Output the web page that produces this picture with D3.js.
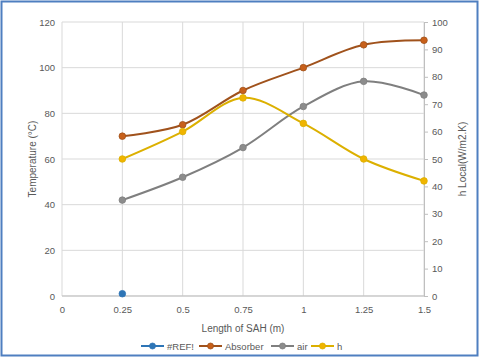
<!DOCTYPE html>
<html>
<head>
<meta charset="utf-8">
<script src="https://cdn.jsdelivr.net/npm/d3@7"></script>
<style>
  body { margin: 0; background: #fff; }
  svg { display: block; font-family: "Liberation Sans", Arial, sans-serif; }
</style>
</head>
<body>
<div id="chart"></div>
<script>
// data
const lengths = [0.25, 0.5, 0.75, 1, 1.25, 1.5];
const refValues = [1];
const absorber = [70, 75, 90, 100, 110, 112];
const air = [42, 52, 65, 83, 94, 88];
const hLocal = [50, 60, 72.3, 63, 50, 42];   // right axis

const xTicks = [0, 0.25, 0.5, 0.75, 1, 1.25, 1.5];
const xTickLabels = ["0", "0.25", "0.5", "0.75", "1", "1.25", "1.5"];
const leftTicks = [0, 20, 40, 60, 80, 100, 120];
const rightTicks = [0, 10, 20, 30, 40, 50, 60, 70, 80, 90, 100];

const width = 480, height = 358;
const plotLeft = 62, plotRight = 424, plotTop = 22, plotBottom = 296;

let svg = d3.select("#chart").append("svg")
    .attr("width", width)
    .attr("height", height);

svg.append("rect")
    .attr("x", 1.5).attr("y", 1.5)
    .attr("width", width - 4).attr("height", height - 4)
    .attr("fill", "#fff")
    .attr("stroke", "#4f7fc0")
    .attr("stroke-width", 2);

let x = d3.scaleLinear().domain([0, 1.5]).range([plotLeft, plotRight]);
let yL = d3.scaleLinear().domain([0, 120]).range([plotBottom, plotTop]);
let yR = d3.scaleLinear().domain([0, 100]).range([plotBottom, plotTop]);

// gridlines
svg.append("g").selectAll("line")
    .data(leftTicks)
    .enter().append("line")
    .attr("x1", plotLeft).attr("x2", plotRight)
    .attr("y1", d => yL(d)).attr("y2", d => yL(d))
    .attr("stroke", "#d9d9d9");

svg.append("g").selectAll("line")
    .data(xTicks)
    .enter().append("line")
    .attr("x1", d => x(d)).attr("x2", d => x(d))
    .attr("y1", plotTop).attr("y2", plotBottom)
    .attr("stroke", "#d9d9d9");

// bottom axis line and right axis
svg.append("line")
    .attr("x1", plotLeft).attr("x2", plotRight)
    .attr("y1", plotBottom).attr("y2", plotBottom)
    .attr("stroke", "#bfbfbf");

let rAxis = svg.append("g")
    .attr("transform", `translate(${plotRight},0)`)
    .call(d3.axisRight(yR).tickValues(rightTicks).tickSize(4).tickPadding(4));
rAxis.select(".domain").attr("stroke", "#bfbfbf");
rAxis.selectAll(".tick line").attr("stroke", "#bfbfbf");
rAxis.selectAll("text").attr("fill", "#595959").style("font-size", "9.5px");

let lAxis = svg.append("g")
    .attr("transform", `translate(${plotLeft},0)`)
    .call(d3.axisLeft(yL).tickValues(leftTicks).tickSize(0).tickPadding(7));
lAxis.select(".domain").remove();
lAxis.selectAll("text").attr("fill", "#595959").style("font-size", "9.5px");

let bAxis = svg.append("g")
    .attr("transform", `translate(0,${plotBottom})`)
    .call(d3.axisBottom(x).tickValues(xTicks).tickSize(0).tickPadding(10)
        .tickFormat((d, i) => xTickLabels[i]));
bAxis.select(".domain").remove();
bAxis.selectAll("text").attr("fill", "#595959").style("font-size", "9.5px");

// axis titles
svg.append("text")
    .attr("transform", `translate(33,${(plotTop + plotBottom) / 2}) rotate(-90)`)
    .attr("text-anchor", "middle")
    .attr("dominant-baseline", "middle")
    .attr("fill", "#595959")
    .style("font-size", "10px")
    .text("Temperature (°C)");

svg.append("text")
    .attr("transform", `translate(463,${(plotTop + plotBottom) / 2}) rotate(-90)`)
    .attr("text-anchor", "middle")
    .attr("dominant-baseline", "middle")
    .attr("fill", "#595959")
    .style("font-size", "10px")
    .text("h Local(W/m2.K)");

svg.append("text")
    .attr("x", (plotLeft + plotRight) / 2).attr("y", 332)
    .attr("text-anchor", "middle")
    .attr("fill", "#595959")
    .style("font-size", "10px")
    .text("Length of SAH (m)");

// series
let series = [
    {name: "#REF!", values: refValues, y: yL, line: "#2e75b6", dot: "#2e75b6"},
    {name: "Absorber", values: absorber, y: yL, line: "#a0521c", dot: "#c8601a"},
    {name: "air", values: air, y: yL, line: "#7f7f7f", dot: "#8c8c8c"},
    {name: "h", values: hLocal, y: yR, line: "#dcb000", dot: "#f0b400"}
];

series.forEach(s => {
    let pts = s.values.map((v, i) => [x(lengths[i]), s.y(v)]);
    let line = d3.line().curve(d3.curveCatmullRom.alpha(0.5));
    svg.append("path")
        .attr("d", line(pts))
        .attr("fill", "none")
        .attr("stroke", s.line)
        .attr("stroke-width", 2);
    svg.append("g").selectAll("circle")
        .data(pts)
        .enter().append("circle")
        .attr("cx", d => d[0]).attr("cy", d => d[1])
        .attr("r", 3.3)
        .attr("fill", s.dot)
        .attr("stroke", s.line)
        .attr("stroke-width", 0.8);
});

// legend
let legendX = [141, 199, 271, 311];
let legend = svg.append("g");
series.forEach((s, i) => {
    let g = legend.append("g").attr("transform", `translate(${legendX[i]},346)`);
    g.append("line")
        .attr("x1", 0).attr("x2", 23)
        .attr("stroke", s.line).attr("stroke-width", 2);
    g.append("circle")
        .attr("cx", 11.5).attr("r", 3)
        .attr("fill", s.dot).attr("stroke", s.line).attr("stroke-width", 0.8);
    g.append("text")
        .attr("x", 26).attr("y", 3.5)
        .attr("fill", "#595959")
        .style("font-size", "9.5px")
        .text(s.name);
});
</script>
</body>
</html>
